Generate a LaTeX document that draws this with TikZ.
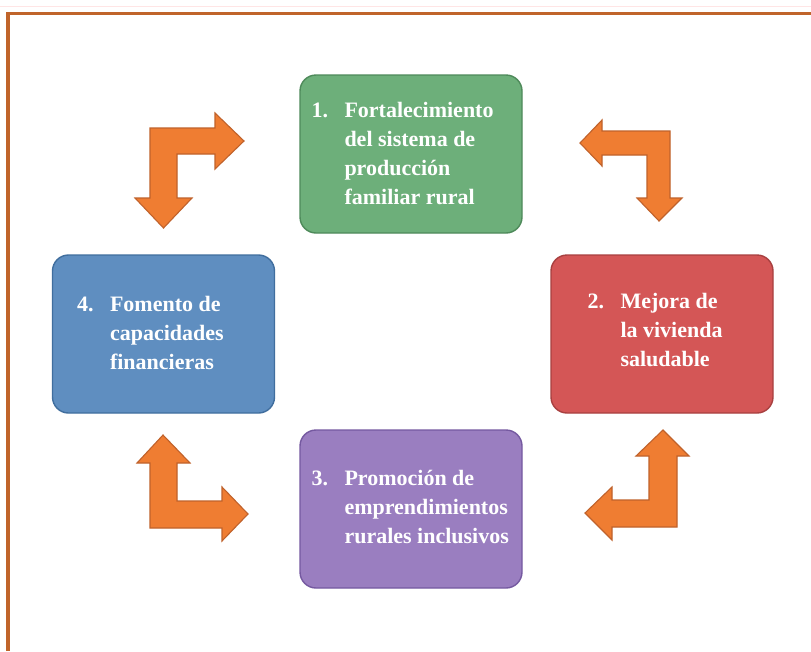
\documentclass[tikz,border=0pt]{standalone}
\usepackage{fontspec}
\setmainfont{Liberation Serif}
\definecolor{framec}{HTML}{C0642A}
\definecolor{arrfill}{HTML}{EF7D32}
\definecolor{arrline}{HTML}{C0622B}
\definecolor{gfill}{HTML}{6DAF7A}
\definecolor{gline}{HTML}{4E8A5A}
\definecolor{rfill}{HTML}{D45656}
\definecolor{rline}{HTML}{A84040}
\definecolor{pfill}{HTML}{9A7EC0}
\definecolor{pline}{HTML}{7559A0}
\definecolor{bfill}{HTML}{5F8EC0}
\definecolor{bline}{HTML}{406E9E}
\tikzset{
  boxst/.style={rounded corners=16pt, line width=1.4pt, minimum width=222pt, minimum height=158pt, inner sep=0pt},
  txtst/.style={anchor=west, inner sep=0pt, text=white, font=\fontsize{22}{29}\selectfont\bfseries},
  arrst/.style={fill=arrfill, draw=arrline, line width=1.1pt, line join=miter},
}
\newcommand{\itemtab}[2]{\begin{tabular}{@{}p{33pt}@{}l@{}}#1 & #2\end{tabular}}
\begin{document}
\begin{tikzpicture}[x=1pt, y=-1pt]
\useasboundingbox (0,0) rectangle (811,651);
\fill[white] (0,0) rectangle (811,651);
% frame
\draw[pink!40, line width=0.8pt] (0,6) -- (811,6);
\draw[framec, line width=3.5pt] (8,651) -- (8,13.5) -- (811,13.5);
% boxes
\node[boxst, fill=gfill, draw=gline] (b1) at (411,154) {};
\node[boxst, fill=rfill, draw=rline] (b2) at (662,334) {};
\node[boxst, fill=pfill, draw=pline] (b3) at (411,509) {};
\node[boxst, fill=bfill, draw=bline] (b4) at (163.5,334) {};
% texts
\node[txtst] (t1) at ([xshift=12pt,yshift=-1.5pt]b1.west) {\itemtab{1.}{Fortalecimiento\\ & del sistema de\\ & producción\\ & familiar rural}};
\node[txtst] (t2) at ([xshift=37pt,yshift=2pt]b2.west) {\itemtab{2.}{Mejora de\\ & la vivienda\\ & saludable}};
\node[txtst] (t3) at ([xshift=12pt,yshift=0.5pt]b3.west) {\itemtab{3.}{Promoción de\\ & emprendimientos\\ & rurales inclusivos}};
\node[txtst] (t4) at ([xshift=25pt,yshift=-0.5pt]b4.west) {\itemtab{4.}{Fomento de\\ & capacidades\\ & financieras}};
% bent arrows
\draw[arrst] (150,128) -- (215,128) -- (215,113) -- (244,141) -- (215,169) -- (215,154) -- (177,154) -- (177,198) -- (192,198) -- (163.5,228) -- (135,198) -- (150,198) -- cycle;
\draw[arrst] (670,131) -- (670,198) -- (682,198) -- (659,221) -- (637,198) -- (647,198) -- (647,155) -- (602,155) -- (602,166) -- (580,143) -- (602,120) -- (602,131) -- cycle;
\draw[arrst] (163,435) -- (190,463) -- (177,463) -- (177,501) -- (222,501) -- (222,487) -- (248,514) -- (222,541) -- (222,528) -- (150,528) -- (150,463) -- (137,463) -- cycle;
\draw[arrst] (663,430) -- (689,456) -- (677,456) -- (677,527) -- (612,527) -- (612,540) -- (585,513) -- (612,487) -- (612,500) -- (649,500) -- (649,456) -- (636,456) -- cycle;
\end{tikzpicture}
\end{document}
